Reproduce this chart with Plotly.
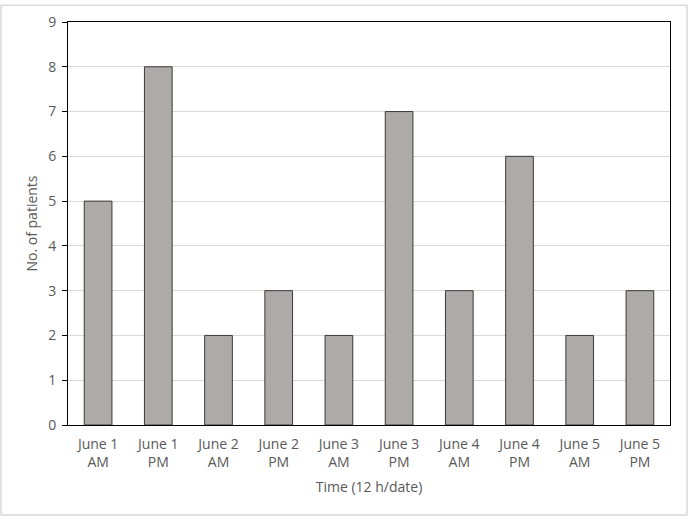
import plotly.graph_objects as go

categories = ["June 1<br>AM", "June 1<br>PM", "June 2<br>AM", "June 2<br>PM", "June 3<br>AM",
              "June 3<br>PM", "June 4<br>AM", "June 4<br>PM", "June 5<br>AM", "June 5<br>PM"]
patients = [5, 8, 2, 3, 2, 7, 3, 6, 2, 3]

W, H = 689, 518
ml, mr, mt, mb = 68, 19, 18, 93
pw, ph = W - ml - mr, H - mt - mb

fig = go.Figure(go.Bar(
    x=categories, y=patients,
    marker=dict(color="#aeaaaa", line=dict(color="#3a3a3a", width=1)),
))

fam = "Open Sans, Lato, sans-serif"
grey = "#595959"
fig.update_layout(
    width=W, height=H,
    margin=dict(l=ml, r=mr, t=mt, b=mb),
    paper_bgcolor="white", plot_bgcolor="white",
    bargap=0.54, showlegend=False, font=dict(family=fam, size=13, color=grey),
    xaxis=dict(showline=True, linecolor="#000000", linewidth=1, mirror=True,
               ticks="", tickfont=dict(family=fam, size=14, color=grey), ticklabelstandoff=6,
               title=dict(text="Time (12 h/date)", font=dict(family=fam, size=14, color=grey), standoff=12)),
    yaxis=dict(range=[0, 9], dtick=1, showline=True, linecolor="#000000", linewidth=1, mirror=True,
               ticks="outside", ticklen=5, tickcolor="#000000", showgrid=True, gridcolor="#d9d9d9",
               zeroline=False, tickfont=dict(family=fam, size=14, color=grey), ticklabelstandoff=3,
               title=dict(text="No. of patients", font=dict(family=fam, size=14, color=grey), standoff=7)),
    shapes=[dict(type="rect", xref="paper", yref="paper",
                 x0=-(ml - 1) / pw, x1=1 + (mr - 2) / pw,
                 y0=-(mb - 2) / ph, y1=1 + (mt - 1) / ph,
                 line=dict(color="#d9d9d9", width=1.5), layer="below")],
)

fig.write_html("out.html", config={"displayModeBar": False},
               post_script="document.body.style.margin='0';")
